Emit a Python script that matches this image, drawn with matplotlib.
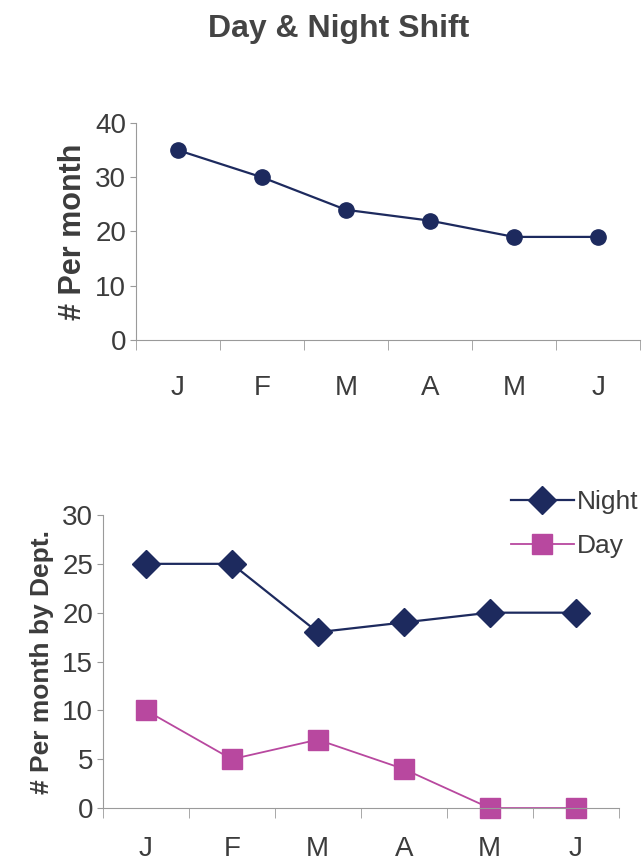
import numpy as np
import matplotlib
matplotlib.use("Agg")
import matplotlib.pyplot as plt
from matplotlib.ticker import FixedLocator

plt.rcParams["font.family"] = ["Liberation Sans", "DejaVu Sans"]

months = ["J", "F", "M", "A", "M", "J"]
total = [35, 30, 24, 22, 19, 19]
night = [25, 25, 18, 19, 20, 20]
day = [10, 5, 7, 4, 0, 0]

navy = "#1d2a5e"
pink = "#b8489f"
txt = "#3c3c3c"
axc = "#9a9a9a"

fig = plt.figure(figsize=(6.43, 8.67), dpi=100)
fig.text(0.526, 0.967, "Day & Night Shift", ha="center", va="center",
         fontsize=23, fontweight="bold", color="#444444")


def style(ax, ymax, ystep, lab, labsize, labpad, xpad):
    x = np.arange(len(months))
    ax.set_xlim(-0.5, len(months) - 0.5)
    ax.set_ylim(0, ymax)
    ax.set_yticks(np.arange(0, ymax + 1, ystep))
    ax.set_xticks(x)
    ax.set_xticklabels(months)
    ax.xaxis.set_minor_locator(FixedLocator(np.arange(-0.5, len(months), 1.0)))
    ax.tick_params(axis="x", which="major", length=0, pad=xpad, labelsize=20, labelcolor=txt)
    ax.tick_params(axis="x", which="minor", length=7, color=axc, direction="out")
    ax.tick_params(axis="y", length=4, color=axc, labelsize=20, labelcolor=txt, pad=3)
    for s in ("top", "right"):
        ax.spines[s].set_visible(False)
    for s in ("left", "bottom"):
        ax.spines[s].set_color(axc)
        ax.spines[s].set_linewidth(0.8)
    ax.set_ylabel(lab, fontsize=labsize, fontweight="bold", color=txt, labelpad=labpad)
    return x


# monthly total
ax1 = fig.add_axes([0.2115, 0.608, 0.784, 0.250])
x = style(ax1, 40, 10, "# Per month", 22, 5, 25)
ax1.plot(x, total, color=navy, lw=1.6, marker="o", ms=11, clip_on=False)

# split by shift
ax2 = fig.add_axes([0.160, 0.068, 0.802, 0.338])
x = style(ax2, 30, 5, "# Per month by Dept.", 19, 6, 20)
ax2.plot(x, night, color=navy, lw=1.6, marker="D", ms=14, label="Night", clip_on=False)
ax2.plot(x, day, color=pink, lw=1.3, marker="s", ms=15, label="Day", clip_on=False)
leg = ax2.legend(loc="upper left", bbox_to_anchor=(0.77, 1.12), frameon=False,
                 fontsize=19, handlelength=2.4, handletextpad=0.1, labelspacing=0.75,
                 borderaxespad=0)
for t in leg.get_texts():
    t.set_color(txt)

fig.savefig("out.png", dpi=100)
